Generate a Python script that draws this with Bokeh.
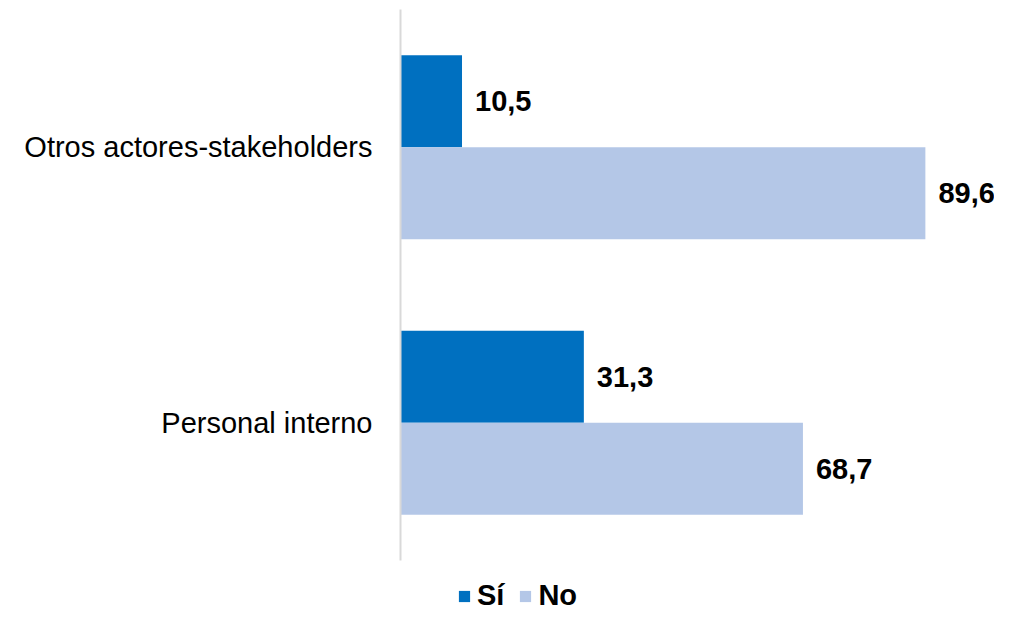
from bokeh.plotting import figure
from bokeh.models import ColumnDataSource, Range1d, Legend, LegendItem, FixedTicker
from bokeh.transform import dodge
from bokeh.core.properties import value
from bokeh.embed import file_html
from bokeh.resources import INLINE

categories = ["Personal interno", "Otros actores-stakeholders"]
si_values = [31.3, 10.5]
no_values = [68.7, 89.6]
series_names = ["Sí", "No"]
colors = ["#0070C0", "#B4C7E7"]


def fmt(v):
    return f"{v:.1f}".replace(".", ",")


positions = list(range(len(categories)))

src = ColumnDataSource(dict(
    pos=positions,
    si=si_values,
    no=no_values,
    si_lbl=[fmt(v) for v in si_values],
    no_lbl=[fmt(v) for v in no_values],
))

FONT = "Liberation Sans"

p = figure(width=994, height=612,
           y_range=Range1d(-0.68875, 1.53267),
           x_range=Range1d(0, 101.4),
           output_backend="svg", toolbar_location=None,
           min_border_left=400, min_border_right=0,
           min_border_top=0, min_border_bottom=0)

off = 0.167
bh = 0.334
r1 = p.hbar(y=dodge("pos", off), left=0, right="si", height=bh,
            fill_color=colors[0], line_color=None, source=src)
r2 = p.hbar(y=dodge("pos", -off), left=0, right="no", height=bh,
            fill_color=colors[1], line_color=None, source=src)

for col, lbl, o in (("si", "si_lbl", off), ("no", "no_lbl", -off)):
    p.text(x=col, y=dodge("pos", o), text=lbl, source=src,
           x_offset=13, text_align="left", text_baseline="middle",
           text_font=value(FONT), text_font_size="29px", text_font_style="bold",
           text_color="black")

p.xaxis.visible = False
p.xgrid.grid_line_color = None
p.ygrid.grid_line_color = None
p.outline_line_color = None

ax = p.yaxis[0]
ax.ticker = FixedTicker(ticks=positions)
ax.major_label_overrides = {i: c for i, c in zip(positions, categories)}
ax.bounds = (positions[0] - 0.5, positions[-1] + 0.5)
ax.axis_line_color = "#d9d9d9"
ax.axis_line_width = 2
ax.major_tick_line_color = None
ax.minor_tick_line_color = None
ax.major_label_text_font = FONT
ax.major_label_text_font_size = "29px"
ax.major_label_text_color = "black"
ax.major_label_standoff = 22

legend = Legend(items=[LegendItem(label=series_names[0], renderers=[r1]),
                       LegendItem(label=series_names[1], renderers=[r2])],
                orientation="horizontal", location=(57, 0))
legend.label_text_font = FONT
legend.label_text_font_size = "29px"
legend.label_text_font_style = "bold"
legend.label_text_color = "black"
legend.glyph_width = 14
legend.glyph_height = 14
legend.label_standoff = 6
legend.spacing = 14
legend.padding = 0
legend.margin = 0
legend.label_height = 21
legend.border_line_color = None
legend.background_fill_alpha = 0
p.add_layout(legend)

open("out.html", "w").write(file_html(p, INLINE))
